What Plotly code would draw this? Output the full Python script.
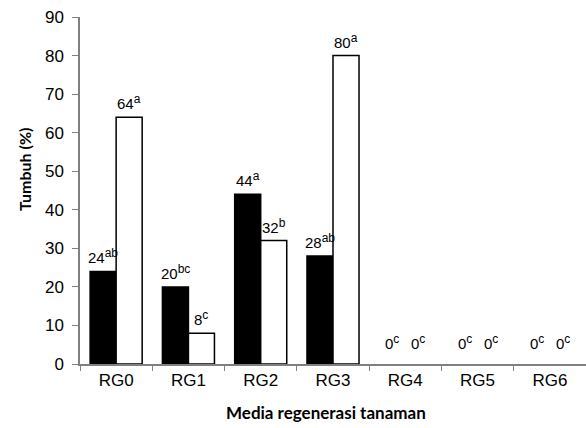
import plotly.graph_objects as go

categories = ["RG0", "RG1", "RG2", "RG3", "RG4", "RG5", "RG6"]
series_black = [24, 20, 44, 28, 0, 0, 0]
series_white = [64, 8, 32, 80, 0, 0, 0]
letters_black = ["ab", "bc", "a", "ab", "c", "c", "c"]
letters_white = ["a", "c", "b", "a", "c", "c", "c"]
y_ticks = [0, 10, 20, 30, 40, 50, 60, 70, 80, 90]

fig = go.Figure()
fig.add_trace(go.Bar(x=categories, y=series_black,
                     marker=dict(color="black", line=dict(color="black", width=[1.5 if v > 0 else 0 for v in series_black])),
                     showlegend=False))
fig.add_trace(go.Bar(x=categories, y=series_white,
                     marker=dict(color="white", line=dict(color="black", width=[1.5 if v > 0 else 0 for v in series_white])),
                     showlegend=False))

for vals, lets, shift in [(series_black, letters_black, -13), (series_white, letters_white, 13)]:
    for c, v, l in zip(categories, vals, lets):
        fig.add_annotation(x=c, y=v,
                           text=f"{v}<sup><span style='font-size:12px'>{l}</span></sup>",
                           showarrow=False,
                           xshift=shift, yanchor="bottom", yshift=3 if v > 0 else 10,
                           font=dict(family="Liberation Sans", size=15, color="black"))

fig.add_annotation(text="<b>Media regenerasi tanaman</b>", xref="paper", yref="paper", x=0.486, y=0,
                   yshift=-48, showarrow=False, yanchor="middle", xanchor="center",
                   font=dict(family="Lato", size=17, color="black"))
fig.add_annotation(text="<b>Tumbuh (%)</b>", xref="paper", yref="paper", x=0, y=0.559,
                   xshift=-56, showarrow=False, textangle=-90, xanchor="center", yanchor="middle",
                   font=dict(family="Lato", size=16, color="black"))

fig.update_layout(
    width=586, height=428,
    margin=dict(l=80, r=0, t=17, b=64),
    plot_bgcolor="white", paper_bgcolor="white",
    barmode="group", bargap=0.28, bargroupgap=0,
    font=dict(family="Liberation Sans", size=15, color="black"),
)
fig.update_xaxes(showline=True, linecolor="#808080", linewidth=1.5, ticks="outside", ticklen=5,
                 tickcolor="#808080", tickson="boundaries", automargin=False,
                 tickfont=dict(family="Liberation Sans", size=17))
fig.update_yaxes(range=[0, 90], tickvals=y_ticks, showline=True, linecolor="#808080", linewidth=1.5,
                 ticks="outside", ticklen=6, tickcolor="#808080", showgrid=False, zeroline=False,
                 automargin=False, ticklabelstandoff=5, tickfont=dict(family="Liberation Sans", size=17))

fig.write_html("out.html", config={"displayModeBar": False},
               post_script="document.body.style.margin='0px';document.body.style.padding='0px';")
